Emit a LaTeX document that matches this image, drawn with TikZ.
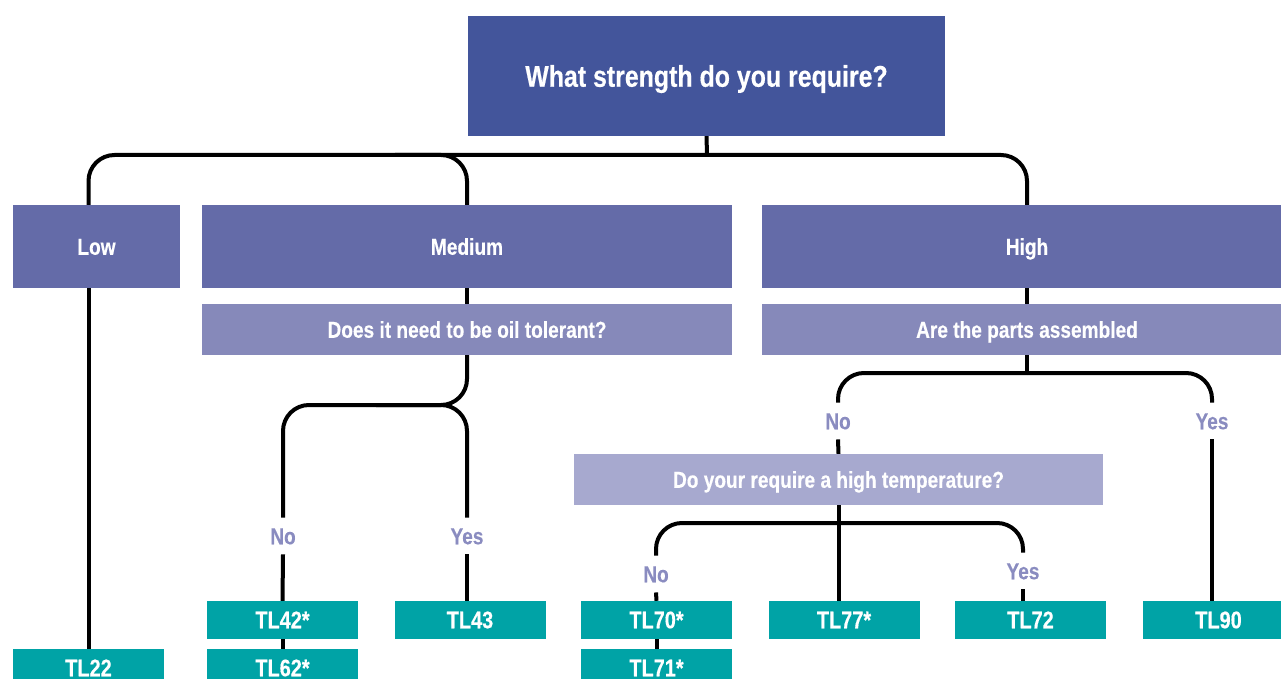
\documentclass[tikz,border=0pt]{standalone}
\usepackage{fontspec}
\setmainfont{Liberation Sans}[FakeStretch=0.83, BoldFeatures={FakeBold=0.4}]
\usetikzlibrary{positioning}
\definecolor{titleblue}{HTML}{43559B}
\definecolor{levelblue}{HTML}{646BA8}
\definecolor{questionblue}{HTML}{8689BA}
\definecolor{templilac}{HTML}{A7A9CF}
\definecolor{answerblue}{HTML}{8A8CC0}
\definecolor{productteal}{HTML}{00A3A6}
\tikzstyle{basic} = [rectangle, text=white, inner sep=0pt, text depth=0pt, text height=16.5pt, font=\bfseries\fontsize{23}{23}\selectfont]
\tikzstyle{title} = [basic, fill=titleblue, minimum width=477pt, minimum height=120pt, text height=21.5pt, font=\bfseries\fontsize{30}{30}\selectfont]
\tikzstyle{level} = [basic, fill=levelblue, minimum height=83pt]
\tikzstyle{question} = [basic, fill=questionblue, minimum height=51pt]
\tikzstyle{product} = [basic, fill=productteal, minimum width=151pt, minimum height=38pt, font=\bfseries\fontsize{24}{24}\selectfont]
\tikzstyle{answer} = [text=answerblue, inner sep=10pt, text depth=0pt, text height=16.5pt, font=\bfseries\fontsize{23}{23}\selectfont]
\tikzstyle{link} = [line width=4pt, rounded corners=26pt]

\begin{document}
\begin{tikzpicture}[x=1pt, y=-1pt]
        \useasboundingbox (0,0) rectangle (1281,679);
        \clip (0,0) rectangle (1281,679);
        \node (strength) [title] at (706.5,76) {What strength do you require?};

        \node (low) [level, minimum width=167pt] at (96.5,246.5) {Low};
        \node (medium) [level, minimum width=530pt] at (467,246.5) {Medium};
        \node (high) [level, minimum width=530pt] at (1027,246.5) {High};
        \node (oilQ) [question, minimum width=530pt] at (467,329.5) {Does it need to be oil tolerant?};
        \node (partsQ) [question, minimum width=530pt] at (1027,329.5) {Are the parts assembled};
        \node (tempQ) [question, fill=templilac, minimum width=529pt] at (838.5,479.5) {Do your require a high temperature?};

        \node (oilNo) [answer] at (283,536) {No};
        \node (oilYes) [answer] at (467,536) {Yes};
        \node (partsNo) [answer] at (838,421) {No};
        \node (partsYes) [answer] at (1212,421) {Yes};
        \node (tempNo) [answer] at (656,574) {No};
        \node (tempYes) [answer] at (1023,571) {Yes};

        \node (tl22) [product] at (88.5,668) {TL22};
        \node (tl42) [product] at (282.5,620) {TL42*};
        \node (tl62) [product] at (282.5,668) {TL62*};
        \node (tl43) [product] at (470,620) {TL43};
        \node (tl70) [product] at (656.5,620) {TL70*};
        \node (tl71) [product] at (656.5,668) {TL71*};
        \node (tl77) [product] at (844,620) {TL77*};
        \node (tl72) [product] at (1030.5,620) {TL72};
        \node (tl90) [product] at (1218.5,620) {TL90};

        \coordinate (topBar) at (707,155);
        \coordinate (lowBar) at (395,155);
        \coordinate (oilBar) at (376,405);
        \coordinate (partsBar) at (1027,373);
        \coordinate (tempBar) at (838,523);

        \draw [link] (strength.south) -- (topBar);
        \draw [link] (topBar) -| (tl22.north |- low.north);
        \draw [link] (lowBar) -| (medium.north);
        \draw [link] (topBar) -| (high.north);
        \draw [link] (tl22.north |- low.south) -- (tl22.north);

        \draw [link] (medium.south) -- (oilQ.north);
        \draw [link] (oilQ.south) |- (oilBar) -| (oilNo.north);
        \draw [link] (oilBar) -| (oilYes.north);
        \draw [link] (oilNo.south) -- (tl42.north);
        \draw [link] (tl42.south) -- (tl62.north);
        \draw [link] (oilYes.south) -- (oilYes.south |- tl43.north);

        \draw [link] (high.south) -- (partsQ.north);
        \draw [link] (partsQ.south) -- (partsBar);
        \draw [link] (partsBar) -| (partsNo.north);
        \draw [link] (partsBar) -| (partsYes.north);
        \draw [link] (partsNo.south) -- (tempQ.north);
        \draw [link] (tempQ.south) -- (tempQ.south |- tl77.north);
        \draw [link] (partsYes.south) -- (partsYes.south |- tl90.north);

        \draw [link] (tempBar) -| (tempNo.north);
        \draw [link] (tempBar) -| (tempYes.north);
        \draw [link] (tempNo.south) -- (tl70.north);
        \draw [link] (tl70.south) -- (tl71.north);
        \draw [link] (tempYes.south) -- (tempYes.south |- tl72.north);
\end{tikzpicture}
\end{document}
